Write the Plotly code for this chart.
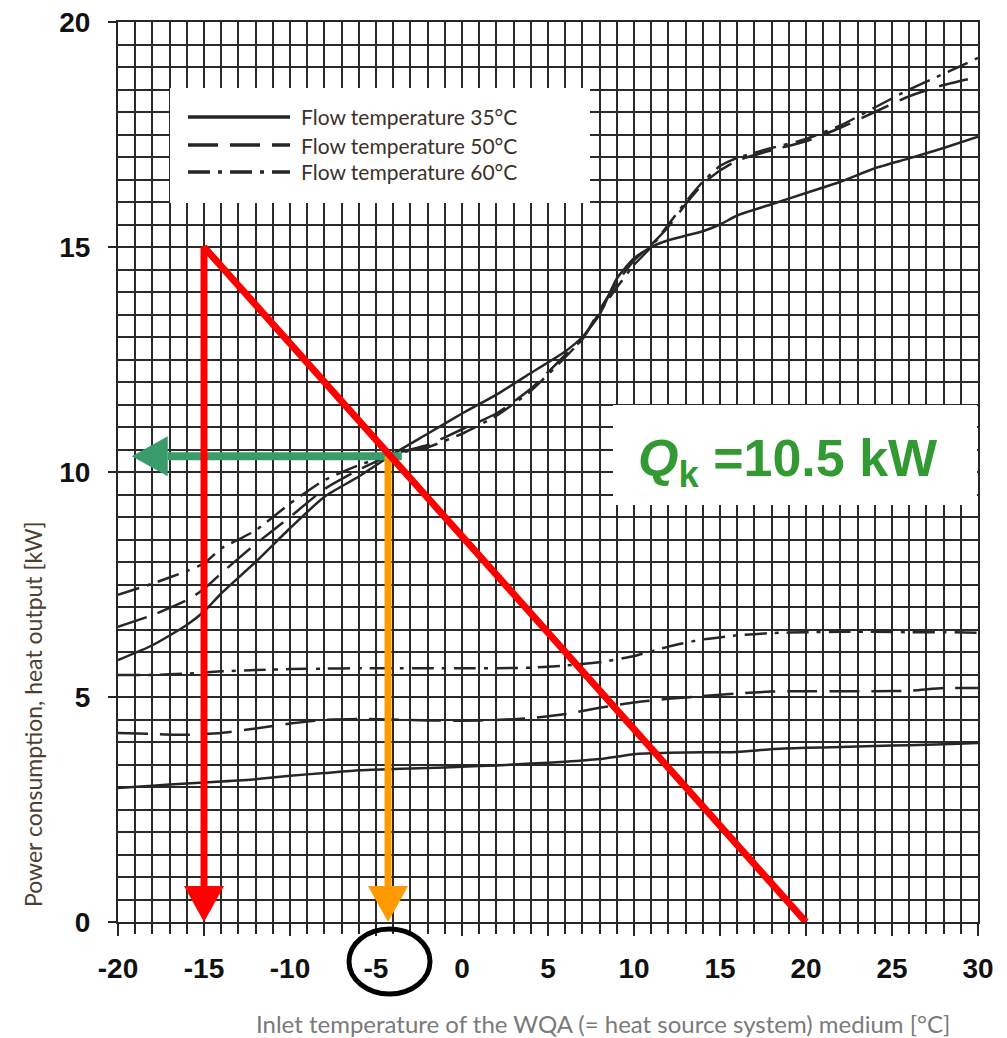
import plotly.graph_objects as go

# ---------------- data ----------------
x_upper = [-20, -18, -16, -15, -14, -12, -10, -8, -6, -4, -2, 0, 2, 4, 6, 7, 8, 9, 10,
           11, 12, 13, 14, 15, 16, 18, 20, 22, 24, 26, 28, 30]
heat_35 = [5.82, 6.15, 6.6, 6.9, 7.3, 8.0, 8.75, 9.45, 9.9, 10.4, 10.85, 11.3, 11.72, 12.2, 12.68,
           13.0, 13.5, 14.3, 14.75, 15.0, 15.15, 15.25, 15.35, 15.5, 15.7, 15.95, 16.2, 16.45,
           16.75, 16.97, 17.2, 17.45]
heat_50 = [6.56, 6.82, 7.15, 7.4, 7.75, 8.4, 9.0, 9.62, 10.05, 10.4, 10.6, 10.95, 11.3, 11.85,
           12.6, 12.95, 13.6, 14.2, 14.7, 15.05, 15.45, 15.95, 16.4, 16.7, 16.92, 17.15, 17.35,
           17.65, 18.0, 18.35, 18.6, 18.78]
heat_60 = [7.27, 7.52, 7.8, 7.97, 8.3, 8.7, 9.3, 9.82, 10.15, 10.4, 10.55, 10.85, 11.25, 11.8,
           12.55, 12.95, 13.55, 14.1, 14.6, 15.0, 15.5, 16.0, 16.45, 16.8, 16.98, 17.2, 17.4,
           17.7, 18.1, 18.5, 18.85, 19.2]

x_lower = [-20, -18, -16, -14, -12, -10, -8, -6, -4, -2, 0, 2, 4, 6, 8, 10, 12, 14, 16, 18,
           20, 22, 24, 26, 28, 30]
power_35 = [2.98, 3.03, 3.08, 3.12, 3.17, 3.25, 3.31, 3.37, 3.4, 3.42, 3.45, 3.48, 3.52, 3.56,
            3.62, 3.73, 3.76, 3.77, 3.78, 3.84, 3.87, 3.89, 3.91, 3.93, 3.95, 3.98]
power_50 = [4.2, 4.18, 4.16, 4.2, 4.3, 4.41, 4.49, 4.51, 4.5, 4.48, 4.47, 4.49, 4.53, 4.62,
            4.76, 4.88, 4.96, 5.02, 5.08, 5.12, 5.13, 5.13, 5.13, 5.14, 5.2, 5.2]
power_60 = [5.49, 5.49, 5.52, 5.57, 5.6, 5.62, 5.63, 5.64, 5.64, 5.64, 5.64, 5.64, 5.65, 5.7,
            5.77, 5.91, 6.12, 6.28, 6.37, 6.42, 6.44, 6.45, 6.45, 6.44, 6.44, 6.43]

series_names = ["Flow temperature 35°C", "Flow temperature 50°C", "Flow temperature 60°C"]

x_tick_vals = [-20, -15, -10, -5, 0, 5, 10, 15, 20, 25, 30]
x_tick_text = ["-20", "-15", "-10", "-5", "0", "5", "10", "15", "20", "25", "30"]
y_tick_vals = [0, 5, 10, 15, 20]
y_tick_text = ["0", "5", "10", "15", "20"]

# construction lines (heating curve reading)
design_temp = -15        # design outdoor temperature
design_load = 15         # heat load at design temperature
heating_limit = 20       # heating limit temperature (load = 0)
operating_temp = -4.3    # balance point temperature
qk_level = 10.35         # heat output at balance point
green_start = -3.5
green_tip = -19.2
qk_label = "=10.5 kW"

# ---------------- geometry ----------------
W, H = 1007, 1038
L, R, T, B = 118, 29, 22, 116
PW, PH = W - L - R, H - T - B
XR = [-20, 30]
YR = [0, 20]
ux = PW / (XR[1] - XR[0])   # px per °C
uy = PH / (YR[1] - YR[0])   # px per kW


def px2x(px):
    return (px - L) / PW


def py2y(py):
    return (H - B - py) / PH


INK = "#262626"
fig = go.Figure()

styles = ["solid", "30px,12px", "22px,8px,4px,8px"]
for name, ys, d in zip(series_names, [heat_35, heat_50, heat_60], styles):
    fig.add_trace(go.Scatter(x=x_upper, y=ys, mode="lines", name=name, showlegend=False,
                             line=dict(color=INK, width=2.5, dash=d, shape="spline",
                                       smoothing=0.5)))
for name, ys, d in zip(series_names, [power_35, power_50, power_60], styles):
    fig.add_trace(go.Scatter(x=x_lower, y=ys, mode="lines", name=name + " (power)",
                             showlegend=False,
                             line=dict(color=INK, width=2.5, dash=d, shape="spline",
                                       smoothing=0.5)))

# arrowheads geometry (pixels -> data)
head_len = 36
head_half = 20

GREEN = "#3a9b6b"
ORANGE = "#ff9900"
RED = "#ff0000"

# green horizontal arrow
g_base = green_tip + head_len / ux
fig.add_trace(go.Scatter(x=[green_start, g_base], y=[qk_level, qk_level], mode="lines",
                         line=dict(color=GREEN, width=8), showlegend=False, hoverinfo="skip"))
fig.add_trace(go.Scatter(x=[green_tip, g_base, g_base, green_tip],
                         y=[qk_level, qk_level + head_half / uy, qk_level - head_half / uy, qk_level],
                         mode="lines", fill="toself", fillcolor=GREEN, line=dict(color=GREEN, width=0),
                         showlegend=False, hoverinfo="skip"))

# orange vertical arrow
o_base = head_len / uy
fig.add_trace(go.Scatter(x=[operating_temp, operating_temp], y=[qk_level, o_base], mode="lines",
                         line=dict(color=ORANGE, width=7), showlegend=False, hoverinfo="skip"))
fig.add_trace(go.Scatter(x=[operating_temp, operating_temp - head_half / ux,
                            operating_temp + head_half / ux, operating_temp],
                         y=[0, o_base, o_base, 0], mode="lines", fill="toself", fillcolor=ORANGE,
                         line=dict(color=ORANGE, width=0), showlegend=False, hoverinfo="skip"))

# red heating line + vertical arrow
fig.add_trace(go.Scatter(x=[design_temp, design_temp, heating_limit], y=[o_base, design_load, 0],
                         mode="lines", line=dict(color=RED, width=7), showlegend=False,
                         hoverinfo="skip"))
fig.add_trace(go.Scatter(x=[design_temp, design_temp - head_half / ux,
                            design_temp + head_half / ux, design_temp],
                         y=[0, o_base, o_base, 0], mode="lines", fill="toself", fillcolor=RED,
                         line=dict(color=RED, width=0), showlegend=False, hoverinfo="skip"))

shapes = []
# legend box
shapes.append(dict(type="rect", xref="paper", yref="paper", x0=px2x(170), x1=px2x(590),
                   y0=py2y(203), y1=py2y(88), fillcolor="white", line=dict(width=0),
                   layer="above"))
legend_rows = [117, 145, 172]
annotations = []
for row, d, name in zip(legend_rows, styles, series_names):
    shapes.append(dict(type="line", xref="paper", yref="paper", x0=px2x(188), x1=px2x(290),
                       y0=py2y(row), y1=py2y(row), line=dict(color=INK, width=3.5, dash=d),
                       layer="above"))
    annotations.append(dict(xref="paper", yref="paper", x=px2x(299), y=py2y(row), text=name,
                            showarrow=False, xanchor="left", yanchor="middle",
                            font=dict(family="Lato", size=21, color="#3a3228")))

# Qk box
shapes.append(dict(type="rect", xref="paper", yref="paper", x0=px2x(613), x1=px2x(977),
                   y0=py2y(505), y1=py2y(405), fillcolor="white", line=dict(width=0),
                   layer="above"))
annotations.append(dict(xref="paper", yref="paper", x=px2x(636), y=py2y(462),
                        text="<b><i>Q</i><sub>k</sub> " + qk_label + "</b>", showarrow=False,
                        xanchor="left", yanchor="middle",
                        font=dict(family="Liberation Sans", size=52, color="#339933")))

# ellipse around -5 tick label
shapes.append(dict(type="circle", xref="paper", yref="paper", x0=px2x(349), x1=px2x(430),
                   y0=py2y(994), y1=py2y(929), line=dict(color="black", width=5),
                   fillcolor="rgba(0,0,0,0)", layer="above"))

# axis titles
annotations.append(dict(xref="paper", yref="paper", x=px2x(33), y=py2y(714),
                        text="Power consumption, heat output [kW]", textangle=-90,
                        showarrow=False, xanchor="center", yanchor="middle",
                        font=dict(family="Lato", size=23, color="#4d4030")))
annotations.append(dict(xref="paper", yref="paper", x=px2x(603), y=py2y(1023),
                        text="Inlet temperature of the WQA (= heat source system) medium [°C]",
                        showarrow=False, xanchor="center", yanchor="middle",
                        font=dict(family="Lato", size=24, color="#7a7a7a")))

GRID = "#2a2a2a"
tickfont = dict(family="Liberation Sans", size=28, color="#111111", weight="bold")
fig.update_layout(
    width=W, height=H, margin=dict(l=L, r=R, t=T, b=B, autoexpand=False),
    paper_bgcolor="white", plot_bgcolor="white",
    shapes=shapes, annotations=annotations, showlegend=False,
    xaxis=dict(range=XR, tickvals=x_tick_vals, ticktext=x_tick_text, ticks="outside",
               ticklen=12, tickwidth=2, tickcolor=INK, showgrid=True, gridcolor=GRID,
               gridwidth=1.9, zeroline=False, showline=True, linecolor=INK, linewidth=2,
               mirror=True, tickfont=tickfont, ticklabelstandoff=8,
               minor=dict(dtick=1, showgrid=True, gridcolor=GRID, gridwidth=1.9,
                          ticks="outside", ticklen=10, tickwidth=1.8, tickcolor=INK)),
    yaxis=dict(range=YR, tickvals=y_tick_vals, ticktext=y_tick_text, ticks="outside",
               ticklen=8, tickwidth=2, tickcolor=INK, showgrid=True, gridcolor=GRID,
               gridwidth=1.9, zeroline=False, showline=True, linecolor=INK, linewidth=2,
               mirror=True, tickfont=tickfont, ticklabelstandoff=12,
               minor=dict(dtick=0.5, showgrid=True, gridcolor=GRID, gridwidth=1.9, ticks="")),
)

fig.write_html("out.html", config={"displayModeBar": False},
               post_script="document.body.style.margin='0';document.body.style.overflow='hidden';")
